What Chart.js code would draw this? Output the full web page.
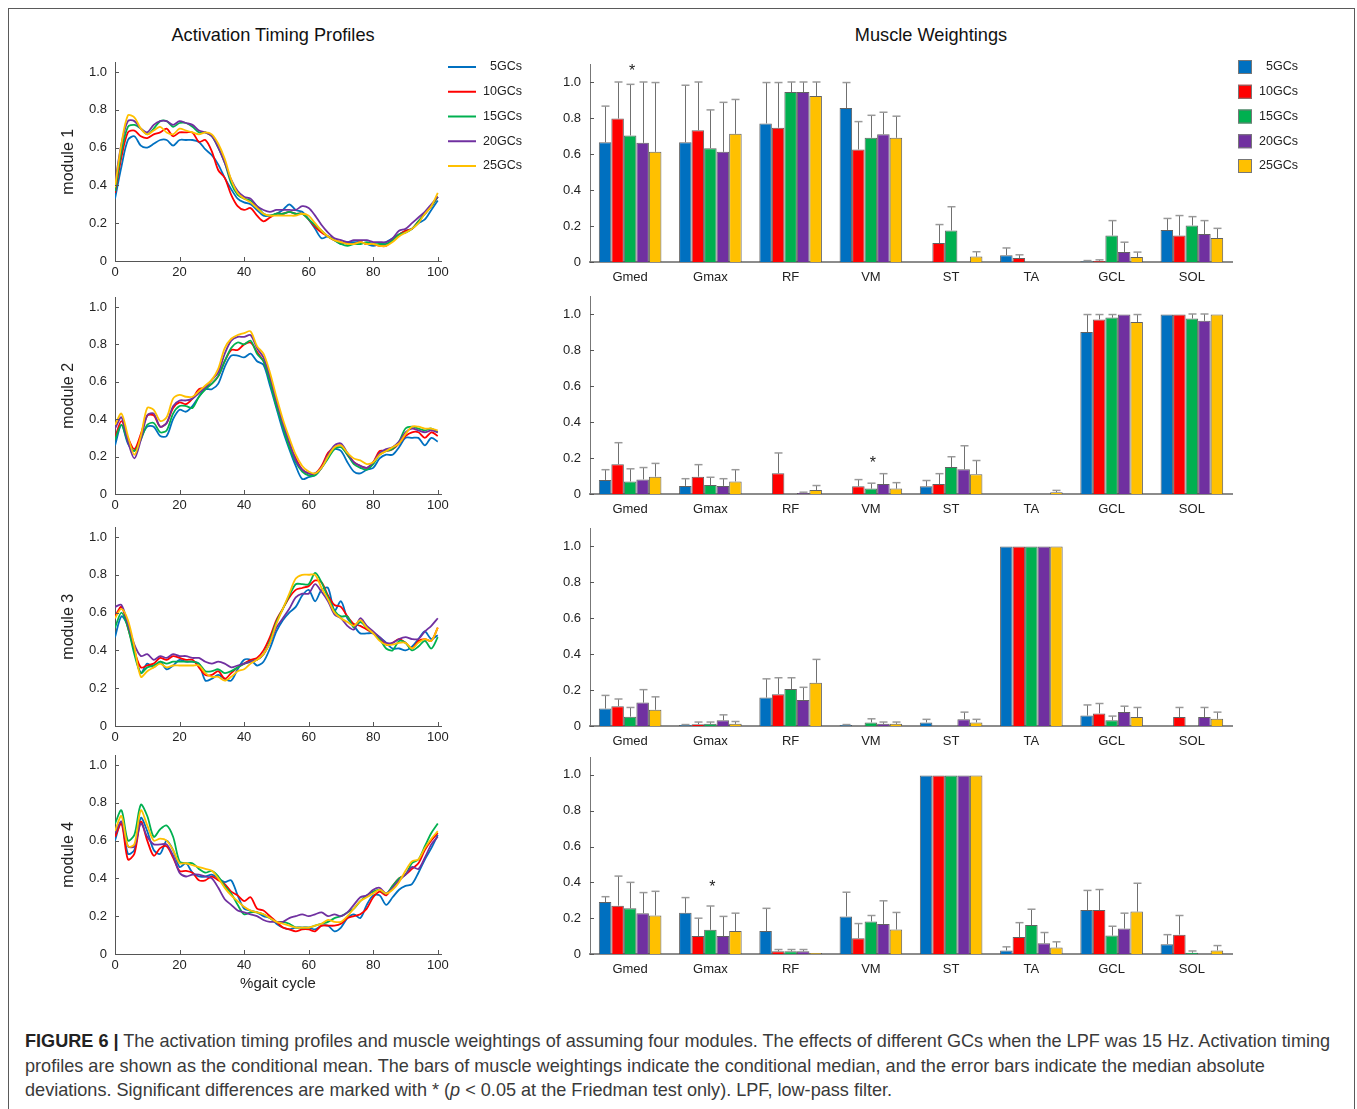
<!DOCTYPE html>
<html>
<head>
<meta charset="utf-8">
<title>Activation timing profiles and muscle weightings</title>
<script src="https://cdn.jsdelivr.net/npm/chart.js@4.4.1/dist/chart.umd.min.js"></script>
<style>
  html, body { margin: 0; padding: 0; background: #fff; }
  body { width: 1357px; height: 1109px; position: relative; overflow: hidden;
         font-family: "Liberation Sans", Arial, Helvetica, sans-serif; }
  #frame { position: absolute; left: 8px; top: 8px; width: 1347px; height: 1200px;
           border: 1.5px solid #5a5a5a; box-sizing: border-box; }
  canvas { position: absolute; }
  .panel-title { position: absolute; top: 24px; font-size: 18.2px; line-height: 22px; color: #111;
                 white-space: nowrap; transform: translateX(-50%); }
  #caption { position: absolute; left: 25px; top: 1029px; font-size: 18.1px; line-height: 24.5px;
             color: #3a3a3a; white-space: nowrap; }
  #caption b { color: #222; }
</style>
</head>
<body>
<div id="frame"></div>
<div class="panel-title" style="left:273px">Activation Timing Profiles</div>
<div class="panel-title" style="left:931px">Muscle Weightings</div>
<div id="caption"><b>FIGURE 6 |</b> The activation timing profiles and muscle weightings of assuming four modules. The effects of different GCs when the LPF was 15 Hz. Activation timing<br>profiles are shown as the conditional mean. The bars of muscle weightings indicate the conditional median, and the error bars indicate the median absolute<br>deviations. Significant differences are marked with * (<i>p</i> &lt; 0.05 at the Friedman test only). LPF, low-pass filter.</div>

<script>
// ---------- data ----------
const gcSeries = ['5GCs', '10GCs', '15GCs', '20GCs', '25GCs'];
const gcColors = ['#0070C0', '#FF0000', '#00B050', '#7030A0', '#FFC000'];
const muscles = ['Gmed', 'Gmax', 'RF', 'VM', 'ST', 'TA', 'GCL', 'SOL'];
const weightTicks = [0, 0.2, 0.4, 0.6, 0.8, 1.0];
const gaitTicks = [0, 20, 40, 60, 80, 100];
const gaitPct = [0, 2, 4, 6, 8, 10, 12, 14, 16, 18, 20, 22, 24, 26, 28, 30, 32, 34, 36, 38, 40,
                 42, 44, 46, 48, 50, 52, 54, 56, 58, 60, 62, 64, 66, 68, 70, 72, 74, 76, 78, 80,
                 82, 84, 86, 88, 90, 92, 94, 96, 98, 100];

// activation timing profiles (conditional mean), one row per GC setting
const m1Profile = [
  [0.33,0.50,0.64,0.66,0.61,0.60,0.62,0.64,0.64,0.61, 0.64,0.64,0.64,0.63,0.59,0.56,0.51,0.44,0.38,0.33, 0.31,0.30,0.27,0.24,0.24,0.25,0.27,0.30,0.27,0.26, 0.22,0.17,0.12,0.13,0.11,0.09,0.10,0.10,0.10,0.09, 0.08,0.09,0.10,0.12,0.14,0.16,0.17,0.20,0.22,0.27, 0.32],
  [0.36,0.55,0.68,0.69,0.66,0.65,0.67,0.68,0.70,0.66, 0.68,0.68,0.68,0.63,0.64,0.58,0.48,0.44,0.35,0.29, 0.27,0.28,0.24,0.21,0.23,0.25,0.25,0.26,0.25,0.25, 0.22,0.18,0.15,0.13,0.11,0.10,0.09,0.09,0.10,0.09, 0.09,0.08,0.08,0.11,0.14,0.16,0.17,0.21,0.25,0.29, 0.34],
  [0.37,0.58,0.71,0.72,0.70,0.67,0.70,0.74,0.74,0.71, 0.73,0.73,0.71,0.68,0.68,0.66,0.60,0.52,0.41,0.35, 0.33,0.32,0.29,0.25,0.24,0.25,0.25,0.26,0.25,0.25, 0.22,0.19,0.16,0.13,0.11,0.09,0.08,0.09,0.09,0.10, 0.09,0.09,0.09,0.11,0.14,0.15,0.17,0.21,0.25,0.29, 0.34],
  [0.41,0.62,0.74,0.74,0.70,0.68,0.72,0.74,0.74,0.72, 0.74,0.73,0.72,0.69,0.68,0.66,0.60,0.52,0.43,0.37, 0.34,0.33,0.29,0.27,0.26,0.27,0.27,0.27,0.27,0.29, 0.28,0.24,0.19,0.15,0.12,0.11,0.10,0.11,0.11,0.11, 0.10,0.10,0.10,0.12,0.16,0.17,0.20,0.23,0.26,0.30, 0.34],
  [0.39,0.62,0.77,0.76,0.70,0.67,0.69,0.71,0.68,0.67, 0.70,0.69,0.68,0.67,0.68,0.67,0.62,0.54,0.43,0.36, 0.33,0.31,0.28,0.25,0.24,0.24,0.24,0.24,0.24,0.25, 0.24,0.20,0.16,0.13,0.11,0.10,0.09,0.09,0.10,0.09, 0.09,0.08,0.08,0.10,0.13,0.15,0.17,0.20,0.25,0.29, 0.36]
];
const m2Profile = [
  [0.26,0.37,0.27,0.23,0.30,0.36,0.36,0.31,0.31,0.40, 0.45,0.44,0.47,0.52,0.56,0.56,0.59,0.68,0.74,0.74, 0.73,0.75,0.71,0.69,0.58,0.46,0.34,0.24,0.15,0.08, 0.09,0.10,0.14,0.21,0.24,0.23,0.17,0.12,0.11,0.13, 0.14,0.19,0.21,0.21,0.25,0.30,0.30,0.30,0.26,0.30, 0.28],
  [0.30,0.39,0.30,0.24,0.32,0.42,0.42,0.36,0.38,0.46, 0.49,0.48,0.51,0.56,0.57,0.59,0.63,0.71,0.77,0.77, 0.80,0.81,0.76,0.71,0.61,0.49,0.38,0.27,0.19,0.13, 0.11,0.11,0.15,0.22,0.25,0.26,0.21,0.17,0.15,0.14, 0.17,0.23,0.23,0.24,0.27,0.31,0.33,0.33,0.30,0.33, 0.31],
  [0.29,0.37,0.28,0.23,0.29,0.37,0.38,0.33,0.34,0.43, 0.47,0.47,0.46,0.52,0.56,0.59,0.63,0.71,0.78,0.81, 0.80,0.82,0.75,0.71,0.60,0.47,0.36,0.25,0.17,0.12, 0.10,0.10,0.14,0.19,0.24,0.25,0.21,0.16,0.14,0.13, 0.16,0.21,0.23,0.24,0.28,0.35,0.36,0.35,0.34,0.35, 0.33],
  [0.35,0.41,0.28,0.19,0.29,0.42,0.43,0.36,0.38,0.47, 0.50,0.50,0.51,0.54,0.57,0.61,0.65,0.75,0.82,0.84, 0.84,0.85,0.78,0.73,0.63,0.50,0.38,0.28,0.18,0.13, 0.11,0.11,0.14,0.21,0.26,0.27,0.22,0.17,0.15,0.14, 0.17,0.22,0.24,0.25,0.28,0.33,0.35,0.34,0.33,0.34, 0.33],
  [0.37,0.43,0.31,0.21,0.31,0.46,0.45,0.39,0.41,0.51, 0.53,0.52,0.52,0.55,0.58,0.61,0.67,0.78,0.83,0.85, 0.86,0.87,0.79,0.75,0.65,0.52,0.40,0.30,0.21,0.15, 0.12,0.11,0.14,0.20,0.25,0.26,0.22,0.19,0.18,0.16, 0.17,0.21,0.23,0.25,0.27,0.32,0.36,0.36,0.35,0.35, 0.34]
];
const m3Profile = [
  [0.47,0.58,0.53,0.40,0.28,0.33,0.31,0.34,0.30,0.32, 0.35,0.34,0.34,0.33,0.24,0.25,0.27,0.25,0.24,0.30, 0.35,0.35,0.32,0.34,0.41,0.50,0.56,0.60,0.63,0.69, 0.72,0.66,0.72,0.73,0.61,0.66,0.57,0.53,0.49,0.49, 0.49,0.47,0.44,0.41,0.41,0.40,0.42,0.46,0.50,0.46, 0.48],
  [0.58,0.63,0.52,0.40,0.31,0.32,0.33,0.36,0.35,0.37, 0.36,0.35,0.35,0.31,0.27,0.27,0.29,0.25,0.28,0.31, 0.33,0.35,0.36,0.40,0.47,0.56,0.62,0.68,0.72,0.73, 0.74,0.77,0.76,0.69,0.64,0.63,0.58,0.54,0.53,0.51, 0.49,0.46,0.43,0.44,0.46,0.44,0.41,0.45,0.46,0.45, 0.52],
  [0.52,0.60,0.52,0.38,0.28,0.31,0.32,0.34,0.33,0.34, 0.34,0.34,0.34,0.33,0.29,0.29,0.30,0.28,0.29,0.31, 0.33,0.34,0.35,0.38,0.45,0.55,0.62,0.69,0.75,0.75, 0.75,0.81,0.76,0.68,0.61,0.58,0.58,0.52,0.55,0.52, 0.49,0.46,0.41,0.40,0.45,0.44,0.40,0.42,0.45,0.41, 0.47],
  [0.63,0.64,0.54,0.43,0.37,0.38,0.35,0.37,0.36,0.38, 0.37,0.37,0.36,0.36,0.34,0.33,0.34,0.33,0.31,0.32, 0.33,0.34,0.35,0.38,0.44,0.52,0.57,0.62,0.68,0.70, 0.70,0.75,0.71,0.66,0.59,0.57,0.53,0.51,0.57,0.53, 0.50,0.47,0.44,0.44,0.46,0.47,0.46,0.46,0.50,0.53, 0.57],
  [0.57,0.62,0.56,0.42,0.26,0.29,0.31,0.33,0.31,0.32, 0.32,0.32,0.32,0.32,0.28,0.26,0.26,0.24,0.26,0.29, 0.30,0.33,0.35,0.38,0.44,0.54,0.62,0.70,0.78,0.80, 0.80,0.80,0.73,0.67,0.60,0.57,0.55,0.53,0.56,0.52, 0.49,0.45,0.43,0.43,0.44,0.44,0.41,0.44,0.46,0.45, 0.52]
];
const m4Profile = [
  [0.60,0.70,0.53,0.55,0.72,0.65,0.55,0.53,0.60,0.55, 0.46,0.48,0.43,0.41,0.41,0.42,0.40,0.38,0.39,0.31, 0.24,0.23,0.22,0.20,0.19,0.16,0.14,0.13,0.14,0.14, 0.14,0.13,0.15,0.15,0.12,0.14,0.19,0.21,0.19,0.26, 0.31,0.31,0.26,0.30,0.34,0.36,0.37,0.43,0.50,0.56, 0.63],
  [0.62,0.69,0.50,0.53,0.70,0.60,0.52,0.56,0.57,0.51, 0.44,0.44,0.43,0.39,0.39,0.41,0.39,0.37,0.33,0.31, 0.28,0.30,0.24,0.23,0.20,0.17,0.14,0.13,0.12,0.13, 0.13,0.12,0.15,0.15,0.15,0.16,0.19,0.20,0.21,0.24, 0.30,0.33,0.31,0.36,0.40,0.42,0.45,0.48,0.55,0.60, 0.64],
  [0.69,0.76,0.60,0.63,0.79,0.73,0.62,0.66,0.68,0.62, 0.49,0.48,0.48,0.45,0.43,0.44,0.41,0.36,0.32,0.26, 0.21,0.22,0.22,0.21,0.19,0.17,0.17,0.16,0.14,0.14, 0.14,0.15,0.16,0.17,0.19,0.20,0.22,0.24,0.28,0.31, 0.33,0.34,0.32,0.36,0.40,0.42,0.48,0.50,0.57,0.64, 0.69],
  [0.64,0.70,0.57,0.57,0.69,0.62,0.58,0.58,0.58,0.52, 0.43,0.41,0.42,0.42,0.41,0.40,0.35,0.29,0.26,0.23, 0.22,0.21,0.20,0.18,0.17,0.17,0.17,0.19,0.20,0.21, 0.20,0.21,0.22,0.20,0.21,0.20,0.22,0.26,0.30,0.31, 0.34,0.35,0.32,0.35,0.39,0.42,0.46,0.45,0.51,0.58, 0.62],
  [0.65,0.73,0.57,0.58,0.76,0.68,0.60,0.61,0.60,0.55, 0.48,0.48,0.47,0.46,0.45,0.44,0.40,0.35,0.31,0.28, 0.25,0.23,0.22,0.21,0.19,0.17,0.16,0.15,0.14,0.14, 0.14,0.15,0.16,0.18,0.17,0.17,0.20,0.24,0.28,0.30, 0.32,0.34,0.32,0.34,0.38,0.44,0.49,0.50,0.56,0.61, 0.65]
];

// muscle weightings: conditional median, one row per GC setting, columns follow `muscles`
const m1Median = [
  [0.665, 0.665, 0.770, 0.855, 0,     0.038, 0.004, 0.178],
  [0.797, 0.732, 0.746, 0.625, 0.105, 0.022, 0.006, 0.147],
  [0.703, 0.632, 0.944, 0.690, 0.175, 0,     0.147, 0.203],
  [0.662, 0.612, 0.944, 0.710, 0,     0,     0.056, 0.155],
  [0.612, 0.712, 0.922, 0.690, 0.030, 0,     0.028, 0.133]
];
const m2Median = [
  [0.078, 0.045, 0,     0,     0.043, 0,     0.900, 0.997],
  [0.165, 0.096, 0.115, 0.043, 0.055, 0,     0.970, 0.997],
  [0.070, 0.050, 0,     0.030, 0.150, 0,     0.980, 0.975],
  [0.081, 0.045, 0.005, 0.055, 0.137, 0,     0.997, 0.962],
  [0.096, 0.070, 0.022, 0.030, 0.110, 0.010, 0.955, 0.997]
];
const m3Median = [
  [0.097, 0.006, 0.158, 0.005, 0.020, 0.997, 0.058, 0],
  [0.110, 0.010, 0.177, 0,     0,     0.997, 0.070, 0.050],
  [0.052, 0.012, 0.205, 0.020, 0,     0.997, 0.032, 0],
  [0.130, 0.032, 0.145, 0.012, 0.038, 0.997, 0.078, 0.050],
  [0.090, 0.012, 0.240, 0.012, 0.020, 0.997, 0.050, 0.040]
];
const m4Median = [
  [0.290, 0.230, 0.128, 0.210, 0.997, 0.020, 0.245, 0.055],
  [0.270, 0.100, 0.015, 0.088, 0.997, 0.095, 0.245, 0.108],
  [0.255, 0.135, 0.015, 0.182, 0.997, 0.162, 0.103, 0.007],
  [0.228, 0.100, 0.015, 0.168, 0.997, 0.060, 0.142, 0],
  [0.215, 0.128, 0.006, 0.137, 0.997, 0.036, 0.237, 0.020]
];

// median absolute deviations (upper error bars)
const m1Mad = [
  [0.201, 0.317, 0.227, 0.142, 0,     0.040, 0.004, 0.064],
  [0.203, 0.268, 0.251, 0.155, 0.103, 0.018, 0.006, 0.111],
  [0.284, 0.213, 0.056, 0.125, 0.132, 0,     0.083, 0.049],
  [0.338, 0.275, 0.056, 0.122, 0,     0,     0.054, 0.075],
  [0.385, 0.191, 0.078, 0.120, 0.027, 0,     0.027, 0.054]
];
const m2Mad = [
  [0.057, 0.040, 0,     0,     0.032, 0,     0.097, 0],
  [0.120, 0.067, 0.113, 0.037, 0.058, 0,     0.027, 0],
  [0.070, 0.043, 0,     0.030, 0.057, 0,     0.017, 0.025],
  [0.066, 0.040, 0.005, 0.058, 0.131, 0,     0,     0.038],
  [0.074, 0.065, 0.025, 0.033, 0.076, 0.010, 0.042, 0]
];
const m3Mad = [
  [0.073, 0.002, 0.104, 0.003, 0.017, 0, 0.059, 0],
  [0.040, 0.012, 0.091, 0,     0,     0, 0.055, 0.053],
  [0.051, 0.010, 0.063, 0.020, 0,     0, 0.023, 0],
  [0.072, 0.030, 0.070, 0.010, 0.039, 0, 0.032, 0.053],
  [0.072, 0.013, 0.130, 0.010, 0.017, 0, 0.053, 0.037]
];
const m4Mad = [
  [0.030, 0.085, 0.127, 0.135, 0, 0.020, 0.110, 0.053],
  [0.165, 0.100, 0.010, 0.082, 0, 0.080, 0.115, 0.107],
  [0.145, 0.133, 0.010, 0.033, 0, 0.088, 0.052, 0.010],
  [0.115, 0.110, 0.010, 0.129, 0, 0.060, 0.086, 0],
  [0.135, 0.100, 0,     0.095, 0, 0.032, 0.158, 0.027]
];

// muscle with a significant Friedman result in each module (null = none)
const sigMuscle = ['Gmed', 'VM', null, 'Gmax'];

const profiles = [m1Profile, m2Profile, m3Profile, m4Profile];
const medians = [m1Median, m2Median, m3Median, m4Median];
const deviations = [m1Mad, m2Mad, m3Mad, m4Mad];

// ---------- layout (page pixels) ----------
const profileBoxes = [
  { area: { l: 115, r: 441, t: 62.5,  b: 261 }, canvas: { l: 55, t: 42,  r: 535, b: 290 } },
  { area: { l: 115, r: 441, t: 297.6, b: 494 }, canvas: { l: 55, t: 277, r: 455, b: 522 } },
  { area: { l: 115, r: 441, t: 527.5, b: 726 }, canvas: { l: 55, t: 507, r: 455, b: 752 } },
  { area: { l: 115, r: 441, t: 755.5, b: 954 }, canvas: { l: 55, t: 735, r: 455, b: 997 } }
];
const weightBoxes = [
  { area: { l: 590, r: 1232, t: 64,  b: 262 }, canvas: { l: 540, t: 42,  r: 1310, b: 290 } },
  { area: { l: 590, r: 1232, t: 296, b: 494 }, canvas: { l: 540, t: 274, r: 1245, b: 520 } },
  { area: { l: 590, r: 1232, t: 528, b: 726 }, canvas: { l: 540, t: 506, r: 1245, b: 752 } },
  { area: { l: 590, r: 1232, t: 757, b: 954 }, canvas: { l: 540, t: 735, r: 1245, b: 980 } }
];

const FONT = '"Liberation Sans", Arial, Helvetica, sans-serif';
Chart.defaults.font.family = FONT;
Chart.defaults.color = '#222';

function place(r) {
  const c = document.createElement('canvas');
  c.width = r.r - r.l; c.height = r.b - r.t;
  c.style.left = r.l + 'px'; c.style.top = r.t + 'px';
  document.body.appendChild(c);
  return c;
}
const padFor = box => ({ left: 0, bottom: 0, top: box.area.t - box.canvas.t, right: box.canvas.r - box.area.r });
const fixTicks = vals => scale => { scale.ticks = vals.map(v => ({ value: v })); };
const tickLabel = v => (v === 0 ? '0' : Number(v).toFixed(1));

// short tick marks pointing into the plot area
const inwardTicks = {
  id: 'inwardTicks',
  afterDraw(chart) {
    const { ctx, chartArea: a, scales } = chart;
    ctx.save();
    ctx.strokeStyle = '#555'; ctx.lineWidth = 1;
    scales.y.ticks.forEach(t => {
      const py = Math.round(scales.y.getPixelForValue(t.value)) + 0.5;
      ctx.beginPath(); ctx.moveTo(a.left, py); ctx.lineTo(a.left + 4, py); ctx.stroke();
    });
    if (scales.x.type === 'linear') {
      scales.x.ticks.forEach(t => {
        const px = Math.round(scales.x.getPixelForValue(t.value)) + 0.5;
        ctx.beginPath(); ctx.moveTo(px, a.bottom); ctx.lineTo(px, a.bottom - 4); ctx.stroke();
      });
    }
    ctx.restore();
  }
};

// line legend to the right of the first profile panel
const profileLegend = {
  id: 'profileLegend',
  afterDraw(chart) {
    const { ctx, chartArea: a } = chart;
    ctx.save();
    ctx.font = '12.5px ' + FONT;
    ctx.textAlign = 'right'; ctx.textBaseline = 'middle';
    chart.data.datasets.forEach((ds, i) => {
      const y = a.top + 4.5 + i * 24.75;
      ctx.strokeStyle = ds.borderColor; ctx.lineWidth = 2;
      ctx.beginPath(); ctx.moveTo(a.right + 7, y); ctx.lineTo(a.right + 35, y); ctx.stroke();
      ctx.fillStyle = '#222';
      ctx.fillText(ds.label, a.right + 81, y);
    });
    ctx.restore();
  }
};

// swatch legend to the right of the first weighting panel
const weightLegend = {
  id: 'weightLegend',
  afterDraw(chart) {
    const { ctx, chartArea: a } = chart;
    ctx.save();
    ctx.font = '12.5px ' + FONT;
    ctx.textAlign = 'right'; ctx.textBaseline = 'middle';
    chart.data.datasets.forEach((ds, i) => {
      const y = a.top + 3 + i * 24.75;
      ctx.fillStyle = ds.backgroundColor;
      ctx.fillRect(a.right + 6, y - 7, 14, 14);
      ctx.strokeStyle = '#777'; ctx.lineWidth = 1;
      ctx.strokeRect(a.right + 6.5, y - 6.5, 13, 13);
      ctx.fillStyle = '#222';
      ctx.fillText(ds.label, a.right + 66, y);
    });
    ctx.restore();
  }
};

// upper error bars (median absolute deviation) on each bar
function spreadBars(mad) {
  return {
    id: 'spreadBars',
    afterDatasetsDraw(chart) {
      const { ctx, scales: { y } } = chart;
      ctx.save();
      chart.data.datasets.forEach((ds, di) => {
        chart.getDatasetMeta(di).data.forEach((bar, i) => {
          const v = ds.data[i], m = mad[di][i];
          if (v == null || !m) return;
          const yTop = y.getPixelForValue(v + m);
          const yBar = y.getPixelForValue(v);
          const cx = Math.round(bar.x) + 0.5;
          const half = bar.width * 0.32;
          ctx.strokeStyle = '#707070'; ctx.lineWidth = 1;
          ctx.beginPath(); ctx.moveTo(cx, yBar); ctx.lineTo(cx, yTop); ctx.stroke();
          ctx.strokeStyle = '#9a9a9a'; ctx.lineWidth = 1.5;
          ctx.beginPath(); ctx.moveTo(cx - half, yTop); ctx.lineTo(cx + half, yTop); ctx.stroke();
        });
      });
      ctx.restore();
    }
  };
}

// asterisk above the muscle with a significant difference
function sigStar(muscle, med, mad) {
  return {
    id: 'sigStar',
    afterDraw(chart) {
      if (!muscle) return;
      const idx = muscles.indexOf(muscle);
      const top = Math.max(...med.map((row, s) => row[idx] + mad[s][idx]));
      const { ctx, scales: { x, y } } = chart;
      ctx.save();
      ctx.font = '16px ' + FONT;
      ctx.fillStyle = '#222';
      ctx.textAlign = 'center'; ctx.textBaseline = 'alphabetic';
      ctx.fillText('*', x.getPixelForValue(idx) + 2, y.getPixelForValue(top) - 6);
      ctx.restore();
    }
  };
}

function makeProfileChart(k) {
  const box = profileBoxes[k];
  const rows = profiles[k];
  return new Chart(place(box.canvas), {
    type: 'line',
    data: {
      datasets: gcSeries.map((name, i) => ({
        label: name,
        data: gaitPct.map((x, j) => ({ x: x, y: rows[i][j] })),
        borderColor: gcColors[i],
        backgroundColor: gcColors[i],
        borderWidth: 1.8,
        pointRadius: 0,
        tension: 0.3,
        fill: false,
        order: gcSeries.length - i
      }))
    },
    options: {
      responsive: false, animation: false, devicePixelRatio: 1,
      layout: { padding: padFor(box) },
      plugins: { legend: { display: false }, tooltip: { enabled: false } },
      scales: {
        x: {
          type: 'linear', min: 0, max: 101,
          afterBuildTicks: fixTicks(gaitTicks),
          afterFit: s => { s.height = box.canvas.b - box.area.b; },
          grid: { display: false, drawTicks: false },
          border: { color: '#555', width: 1 },
          ticks: { padding: 4, font: { size: 13 }, color: '#222', maxRotation: 0 },
          title: { display: k === 3, text: '%gait cycle', font: { size: 15 }, color: '#222',
                   padding: { top: 4, bottom: 4 } }
        },
        y: {
          min: 0, max: 1.05,
          afterBuildTicks: fixTicks(weightTicks),
          afterFit: s => { s.width = box.area.l - box.canvas.l; },
          grid: { display: false, drawTicks: false },
          border: { color: '#555', width: 1 },
          ticks: { padding: 8, font: { size: 13 }, color: '#222', callback: tickLabel },
          title: { display: true, text: 'module ' + (k + 1), font: { size: 16 }, color: '#222',
                   padding: { top: 4, bottom: 4 } }
        }
      }
    },
    plugins: k === 0 ? [inwardTicks, profileLegend] : [inwardTicks]
  });
}

function makeWeightChart(k) {
  const box = weightBoxes[k];
  const med = medians[k], mad = deviations[k];
  const extra = [inwardTicks, spreadBars(mad), sigStar(sigMuscle[k], med, mad)];
  if (k === 0) extra.push(weightLegend);
  return new Chart(place(box.canvas), {
    type: 'bar',
    data: {
      labels: muscles,
      datasets: gcSeries.map((name, i) => ({
        label: name,
        data: med[i].map(v => (v > 0 ? v : null)),
        backgroundColor: gcColors[i],
        borderColor: 'rgba(70,70,70,0.85)',
        borderWidth: 1,
        borderSkipped: 'bottom',
        categoryPercentage: 0.78,
        barPercentage: 1.0
      }))
    },
    options: {
      responsive: false, animation: false, devicePixelRatio: 1,
      layout: { padding: padFor(box) },
      plugins: { legend: { display: false }, tooltip: { enabled: false } },
      scales: {
        x: {
          type: 'category', offset: true,
          afterFit: s => { s.height = box.canvas.b - box.area.b; },
          grid: { display: false, drawTicks: false },
          border: { color: '#8c8c8c', width: 2 },
          ticks: { padding: 8, font: { size: 13 }, color: '#222', autoSkip: false, maxRotation: 0 }
        },
        y: {
          min: 0, max: 1.1,
          afterBuildTicks: fixTicks(weightTicks),
          afterFit: s => { s.width = box.area.l - box.canvas.l; },
          grid: { display: false, drawTicks: false },
          border: { color: '#777', width: 1 },
          ticks: { padding: 9, font: { size: 13 }, color: '#222', callback: tickLabel }
        }
      }
    },
    plugins: extra
  });
}

for (let k = 0; k < 4; k++) {
  makeProfileChart(k);
  makeWeightChart(k);
}
</script>
</body>
</html>
